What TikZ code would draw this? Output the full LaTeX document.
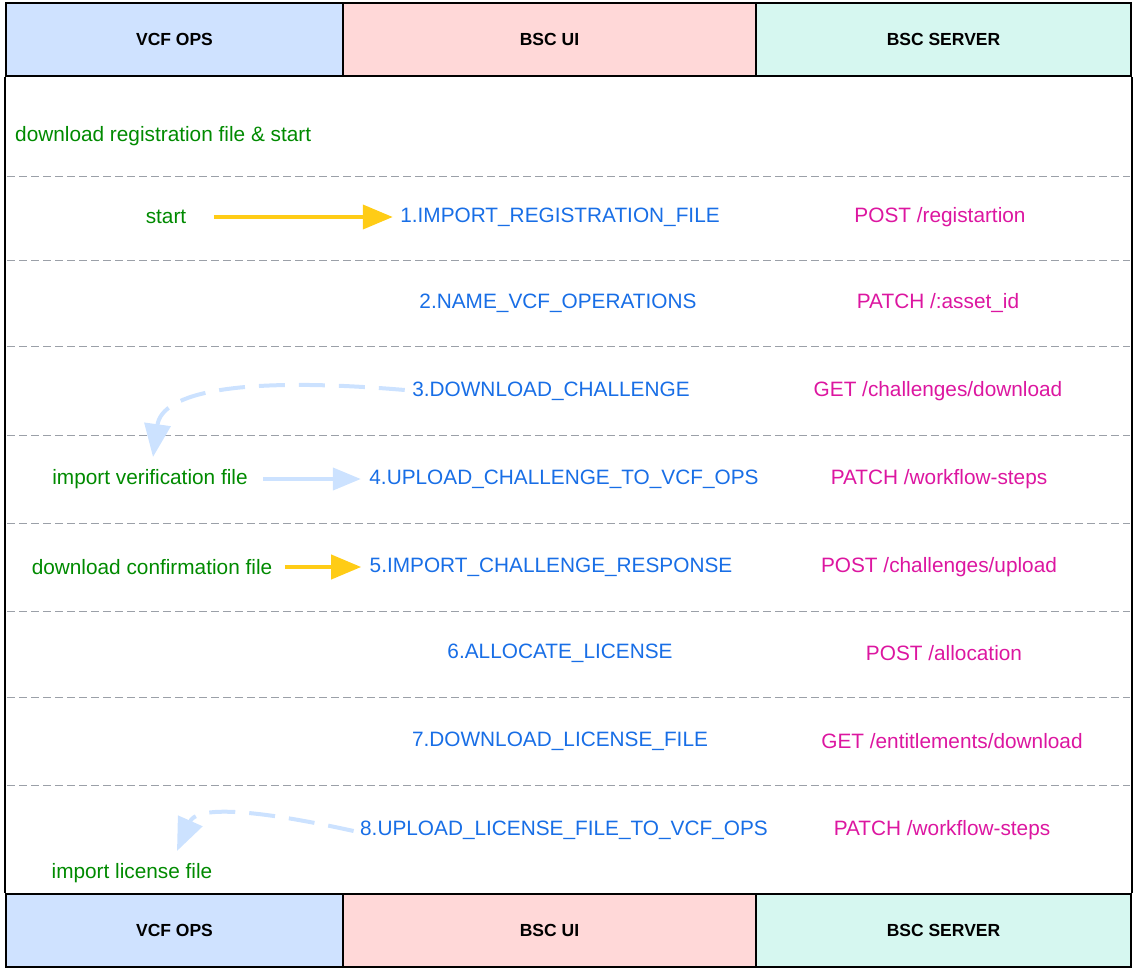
\documentclass[tikz,border=0pt]{standalone}
\usepackage{fontspec}
\setmainfont{Liberation Sans}
\usetikzlibrary{arrows.meta, positioning}
\definecolor{vcf-blue}{RGB}{207,226,255}
\definecolor{bsc-pink}{RGB}{255,216,216}
\definecolor{bsc-mint}{RGB}{214,247,240}
\definecolor{txt-green}{RGB}{0,138,0}
\definecolor{txt-blue}{RGB}{24,110,230}
\definecolor{txt-magenta}{RGB}{220,22,160}
\definecolor{arr-yellow}{RGB}{255,204,22}
\definecolor{arr-blue}{RGB}{204,226,255}
\definecolor{sep-gray}{RGB}{155,160,168}

\begin{document}
\begin{tikzpicture}[x=1pt, y=-1pt,
	headbox/.style={draw, line width=2pt, minimum height=73pt, font=\fontsize{17.5}{20}\selectfont\bfseries},
	txt/.style={font=\fontsize{20.8}{24}\selectfont},
	act/.style={txt, text=txt-green},
	stepname/.style={txt, text=txt-blue},
	api/.style={txt, text=txt-magenta},
	sep/.style={sep-gray, line width=1pt, dash pattern=on 8pt off 4pt},
	yarrow/.style={-{Triangle[length=30pt, width=24pt]}, line width=4pt, arr-yellow},
	barrow/.style={-{Triangle[length=28pt, width=22pt]}, line width=4pt, arr-blue},
	darrow/.style={-{Triangle[length=33pt, width=26pt]}, line width=4pt, arr-blue, dash pattern=on 26pt off 14pt}]
	\useasboundingbox (0,0) rectangle (1138,969);
	% lanes
	\node[headbox, fill=vcf-blue, minimum width=337pt] (h1) at (174.5,39.5) {VCF OPS};
	\node[headbox, fill=bsc-pink, minimum width=413pt] (h2) at (549.5,39.5) {BSC UI};
	\node[headbox, fill=bsc-mint, minimum width=375pt] (h3) at (943.5,39.5) {BSC SERVER};
	\node[headbox, fill=vcf-blue, minimum width=337pt] (f1) at (174.5,930.5) {VCF OPS};
	\node[headbox, fill=bsc-pink, minimum width=413pt] (f2) at (549.5,930.5) {BSC UI};
	\node[headbox, fill=bsc-mint, minimum width=375pt] (f3) at (943.5,930.5) {BSC SERVER};
	\draw[line width=2pt] (h1.south west) -- (f1.north west);
	\draw[line width=2pt] (h3.south east) -- (f3.north east);
	\foreach \y in {176,260,346,435,523,611,697,785}
		\draw[sep] (7,\y) -- (1130,\y);
	% steps
	\node[act, anchor=west, inner sep=0pt] (dl) at (15,136) {download registration file \& start};
	\node[act] (st1) at (166,217) {start};
	\node[stepname] (s1) at (560,217) {1.IMPORT\_REGISTRATION\_FILE};
	\node[api] (a1) at (940,217) {POST /registartion};
	\node[stepname] (s2) at (558,303) {2.NAME\_VCF\_OPERATIONS};
	\node[api] (a2) at (938,303) {PATCH /:asset\_id};
	\node[stepname] (s3) at (551,391) {3.DOWNLOAD\_CHALLENGE};
	\node[api] (a3) at (938,391) {GET /challenges/download};
	\node[act] (iv) at (150,479) {import verification file};
	\node[stepname] (s4) at (564,479) {4.UPLOAD\_CHALLENGE\_TO\_VCF\_OPS};
	\node[api] (a4) at (939,479) {PATCH /workflow-steps};
	\node[act] (dc) at (152,567) {download confirmation file};
	\node[stepname] (s5) at (551,567) {5.IMPORT\_CHALLENGE\_RESPONSE};
	\node[api] (a5) at (939,567) {POST /challenges/upload};
	\node[stepname] (s6) at (560,653) {6.ALLOCATE\_LICENSE};
	\node[api] (a6) at (944,653) {POST /allocation};
	\node[stepname] (s7) at (560,741) {7.DOWNLOAD\_LICENSE\_FILE};
	\node[api] (a7) at (952,741) {GET /entitlements/download};
	\node[stepname] (s8) at (564,830) {8.UPLOAD\_LICENSE\_FILE\_TO\_VCF\_OPS};
	\node[api] (a8) at (942,830) {PATCH /workflow-steps};
	\node[act] (il) at (132,873) {import license file};
	\coordinate (t3) at (153,457);
	\coordinate (t8) at (177,851);
	% arrows
	\draw[yarrow] ([xshift=24pt]st1.east) -- ([xshift=-4pt]s1.west);
	\draw[barrow] ([xshift=12pt]iv.east) -- ([xshift=-5pt]s4.west);
	\draw[yarrow] ([xshift=9pt]dc.east) -- ([xshift=-5pt]s5.west);
	\draw[darrow] ([xshift=-4pt, yshift=1pt]s3.west) .. controls (240,376) and (162,392) .. (t3);
	\draw[darrow] ([xshift=-3pt, yshift=-1pt]s8.west) .. controls (240,806) and (196,808) .. (t8);
\end{tikzpicture}
\end{document}
